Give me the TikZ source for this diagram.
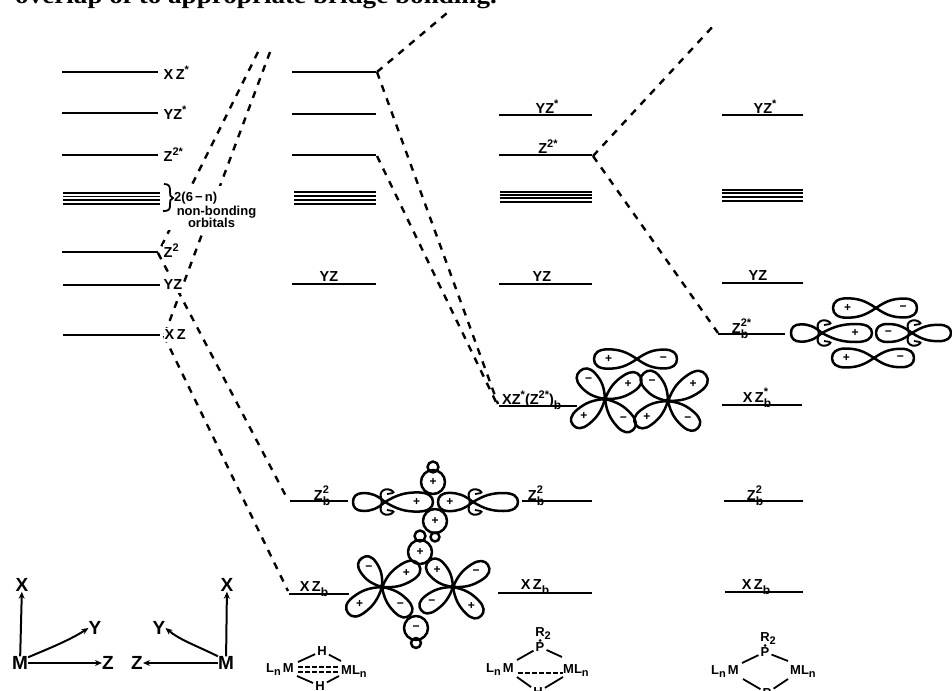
\documentclass[tikz,border=0pt]{standalone}
\usepackage{fontspec}
\setmainfont{Liberation Sans}
\newfontfamily\headfont{Liberation Serif}
\newcounter{orb}
\usetikzlibrary{arrows.meta}
\tikzset{
  lev/.style={line width=2pt,line cap=butt},
  levthin/.style={line width=1.4pt},
  nb/.style={line width=1.5pt},
  mo/.style={line width=2.4pt,dash pattern=on 7pt off 7pt},
  lab/.style={inner sep=0pt,font=\fontsize{14.5}{14.5}\selectfont\bfseries},
  sm/.style={inner sep=0pt,font=\fontsize{13}{13}\selectfont\bfseries},
  axl/.style={inner sep=0pt,font=\fontsize{19}{19}\selectfont\bfseries},
  ax/.style={line width=2pt,-{Stealth[length=7pt,width=6pt]}},
  sgn/.style={inner sep=0pt,font=\fontsize{12}{12}\selectfont\bfseries},
  orbl/.style={line width=2.5pt,line join=round},
  bond/.style={line width=1.8pt},
  note/.style={fill=white,inner sep=1pt,font=\fontsize{13}{13}\selectfont\bfseries},
}
% lobe from centre (#1,#2) to tip (#3,#4), width ratio #5, sign #6
\newcommand\lobe[6]{%
  \begin{scope}[shift={(#1,#2)},
    x={({(#3-(#1))*1pt},{((#2)-(#4))*1pt})},
    y={({((#2)-(#4))*1pt},{((#1)-(#3))*1pt})}]
    \draw[orbl] (0,0) .. controls (.25,{.38*#5}) and (.42,{.5*#5}) .. (.68,{.5*#5})
      .. controls (.9,{.5*#5}) and (1,{.3*#5}) .. (1,0)
      .. controls (1,{-.3*#5}) and (.9,{-.5*#5}) .. (.68,{-.5*#5})
      .. controls (.42,{-.5*#5}) and (.25,{-.38*#5}) .. (0,0);
    \if\relax\detokenize{#6}\relax\else
      \stepcounter{orb}\node[sgn] (sg\theorb) at (.66,0) {#6};
    \fi
  \end{scope}}
% collar of a z2 orbital
\newcommand\collar[2]{%
  \draw[orbl,line width=2pt] ({#1+9},{#2-9}) .. controls ({#1+6},{#2-15}) and ({#1-7},{#2-14}) .. ({#1-4},{#2-4})
     .. controls ({#1-3},{#2-1}) and ({#1-3},{#2+1}) .. ({#1-4},{#2+4})
     .. controls ({#1-7},{#2+14}) and ({#1+6},{#2+15}) .. ({#1+9},{#2+9});
  \draw[orbl,line width=1.8pt] ({#1+2},{#2-8}) -- ({#1+8},{#2-9});
  \draw[orbl,line width=1.8pt] ({#1+2},{#2+8}) -- ({#1+8},{#2+9});}
% ring with optional sign
\newcommand\ring[4]{%
  \stepcounter{orb}\draw[orbl] (#1,#2) circle (#3);
  \if\relax\detokenize{#4}\relax\else
    \node[sgn] (rg\theorb) at (#1,#2) {#4};
  \fi}
\newcommand\tiesub[2]{\rlap{\raisebox{7pt}{\fontsize{11}{11}\selectfont\bfseries #1}}\raisebox{-5pt}{\fontsize{12}{12}\selectfont\bfseries #2}}
\newcommand\tiesup[1]{\raisebox{6pt}{\fontsize{11}{11}\selectfont\bfseries #1}}
\newcommand\tsub{\raisebox{-5pt}{\fontsize{12}{12}\selectfont\bfseries b}}
\newcommand\lsub{\raisebox{-3pt}{\fontsize{11}{11}\selectfont n}}
\newcommand\rsub{\raisebox{-3pt}{\fontsize{11}{11}\selectfont 2}}
\begin{document}
\begin{tikzpicture}[x=1pt,y=-1pt]
\clip (0,0) rectangle (952,690);
\fill[white] (0,0) rectangle (952,690);
% running text, cut by the page edge
\node[anchor=base west,inner sep=0pt,font=\headfont\fontsize{24}{24}\selectfont\bfseries,xscale=1.13] (head) at (15,4) {overlap of to appropriate bridge bonding.};

% named ends of the levels
\coordinate (a2) at (158,253);
\coordinate (a3) at (164,336);
\coordinate (f1) at (258,52);
\coordinate (f2) at (270,52);
\coordinate (b1) at (377,72);
\coordinate (b3) at (377,156);
\coordinate (t1) at (447,13);
\coordinate (bz) at (288,500);
\coordinate (bx) at (288,591);
\coordinate (c3) at (593,156);
\coordinate (cb) at (498,404);
\coordinate (cb2) at (496,402);
\coordinate (t2) at (716,23);
\coordinate (dz) at (718,333);

% correlation lines
\draw[mo] (f1) -- (a2);
\draw[mo] (f2) -- (a3);
\draw[mo] (a2) -- (bz);
\draw[mo] (a3) -- (bx);
\draw[mo] (b1) -- (t1);
\draw[mo] (b1) -- (cb);
\draw[mo] (b3) -- (cb2);
\draw[mo] (c3) -- (t2);
\draw[mo] (c3) -- (dz);

% column 1
\draw[lev] (62,72) -- (158,72);
\draw[lev] (62,113) -- (158,113);
\draw[levthin] (62,155) -- (158,155);
\foreach \y in {193,196.5,200,204} \draw[nb] (63,\y) -- (160,\y);
\draw[lev] (62,252) -- (158,252);
\draw[lev] (63,285) -- (160,285);
\draw[levthin] (63,335) -- (160,335);

\node[lab,anchor=west,fill=white,inner sep=.5pt] (l1a) at (163,73) {X\,Z\tiesup{*}};
\node[lab,anchor=west,fill=white,inner sep=.5pt] (l1b) at (163,113) {YZ\tiesup{*}};
\node[lab,anchor=west,fill=white,inner sep=.5pt] (l1c) at (163,155) {Z\tiesup{2*}};
\node[lab,anchor=west,fill=white,inner sep=.5pt] (l1d) at (163,251) {Z\tiesup{2}};
\node[lab,anchor=west,fill=white,inner xsep=.5pt,inner ysep=3pt] (l1e) at (163,285) {YZ};
\node[lab,anchor=west,fill=white,inner xsep=.5pt,inner ysep=2pt] (l1f) at (164,335) {X\,Z};
\fill[white] (163,186) rectangle (222,230);
\draw[line width=1.8pt] (164,184) .. controls (170,184) and (170,187) .. (170,192)
   .. controls (170,195) and (170,197) .. (173,198)
   .. controls (170,199) and (170,201) .. (170,204)
   .. controls (170,209) and (170,211) .. (163,211);
\node[note,anchor=west,inner sep=0pt] (n1) at (174,198) {2(6\,−\,n)};
\node[note] (n2) at (216.5,212) {non-bonding};
\node[note] (n3) at (211.5,223) {orbitals};

% column 2
\draw[lev] (292,72) -- (376,72);
\draw[lev] (292,114) -- (376,114);
\draw[levthin] (292,155) -- (376,155);
\foreach \y in {192,196,200,204} \draw[nb] (294,\y) -- (376,\y);
\draw[lev] (292,284) -- (376,284);
\node[lab] (l2a) at (329,277) {YZ};
\draw[lev] (290,501) -- (348,501);
\draw[lev] (289,594) -- (349,594);
\node[lab] (l2b) at (322,496) {Z\tiesub{2}{b}\hspace{6pt}};
\node[lab] (l2c) at (314,589) {X\,Z\tsub};

% column 3
\draw[lev] (499,115) -- (592,115);
\draw[lev] (499,155) -- (592,155);
\foreach \y in {192,195,198,202} \draw[nb] (500,\y) -- (592,\y);
\draw[lev] (499,284) -- (592,284);
\draw[lev] (499,406) -- (577,406);
\draw[lev] (522,501) -- (592,501);
\draw[lev] (498,593) -- (592,593);
\node[lab] (l3a) at (547,107) {YZ\tiesup{*}};
\node[lab] (l3b) at (548,147) {Z\tiesup{2*}};
\node[lab] (l3c) at (542,277) {YZ};
\node[lab,anchor=west] (l3d) at (502,400) {XZ\tiesup{*}(Z\tiesup{2*})\tsub};
\node[lab] (l3e) at (536,496) {Z\tiesub{2}{b}\hspace{6pt}};
\node[lab] (l3f) at (535,587) {X\,Z\tsub};

% column 4
\draw[lev] (722,115) -- (803,115);
\foreach \y in {190,193,197,201} \draw[nb] (722,\y) -- (803,\y);
\draw[levthin] (722,283) -- (803,283);
\draw[lev] (718,334) -- (785,334);
\draw[lev] (722,405) -- (802,405);
\draw[lev] (724,501) -- (803,501);
\draw[lev] (725,592) -- (803,592);
\node[lab] (l4a) at (765,107) {YZ\tiesup{*}};
\node[lab] (l4b) at (758,276) {YZ};
\node[lab] (l4c) at (740,329) {Z\tiesub{2*}{b}\hspace{8pt}};
\node[lab] (l4d) at (757,398) {X\,Z\tiesub{*}{b}\hspace{6pt}};
\node[lab] (l4e) at (755,496) {Z\tiesub{2}{b}\hspace{6pt}};
\node[lab] (l4f) at (756,587) {X\,Z\tsub};

% orbitals beside Zb2 (column 2)
\lobe{385}{502}{353}{502}{.56}{}
\lobe{385}{502}{433}{502}{.40}{+}
\collar{385}{502}
\lobe{473}{502}{438}{502}{.52}{+}
\lobe{473}{502}{518}{502}{.40}{}
\collar{473}{502}
\ring{433}{467}{5.5}{}
\ring{433}{482}{12}{+}
\ring{435}{521}{12}{+}
\ring{435}{537}{4.5}{}
\ring{420}{536}{5.5}{}
\ring{420}{552}{12}{+}
\ring{416}{628}{12}{−}
\ring{416}{643}{5}{}
% XZb
\lobe{382}{587}{362}{558}{.52}{−}
\lobe{382}{587}{419}{565}{.45}{+}
\lobe{382}{587}{348}{613}{.45}{+}
\lobe{382}{587}{410}{615}{.45}{−}
\fill (382,587) circle (3);
\lobe{453}{587}{429}{561}{.52}{+}
\lobe{453}{587}{488}{565}{.45}{−}
\lobe{453}{587}{421}{610}{.45}{−}
\lobe{453}{587}{481}{616}{.45}{+}
\fill (453,587) circle (3);

% orbitals of column 3
\lobe{637}{359}{594}{359}{.45}{+}
\lobe{637}{359}{677}{359}{.47}{−}
\lobe{605}{399}{580}{371}{.52}{−}
\lobe{605}{399}{640}{376}{.45}{+}
\lobe{605}{399}{573}{425}{.45}{+}
\lobe{605}{399}{633}{430}{.45}{−}
\fill (605,399) circle (3);
\lobe{668}{401}{644}{373}{.52}{−}
\lobe{668}{401}{706}{375}{.45}{+}
\lobe{668}{401}{636}{425}{.45}{+}
\lobe{668}{401}{698}{428}{.45}{−}
\fill (668,401) circle (3);

% orbitals of column 4
\lobe{876}{308}{833}{308}{.45}{+}
\lobe{876}{308}{917}{308}{.46}{−}
\lobe{874}{358}{832}{358}{.45}{+}
\lobe{874}{358}{914}{358}{.46}{−}
\lobe{822}{333}{791}{333}{.56}{}
\lobe{822}{333}{872}{333}{.36}{+}
\collar{822}{333}
\lobe{912}{333}{876}{333}{.5}{−}
\lobe{912}{333}{951}{333}{.42}{}
\collar{912}{333}

% axes, left
\node[axl] (mL) at (20,663) {M};
\node[axl] (xL) at (22,585) {X};
\node[axl] (yL) at (95,628) {Y};
\node[axl] (zL) at (108,663) {Z};
\draw[ax] (mL) -- (xL);
\draw[ax] (mL.north east) ++(0,1) .. controls (50,648) and (70,640) .. (yL.west);
\draw[ax] (mL) -- (zL);
% axes, right
\node[axl] (mR) at (226,663) {M};
\node[axl] (xR) at (227,585) {X};
\node[axl] (yR) at (159,628) {Y};
\node[axl] (zR) at (137,663) {Z};
\draw[ax] (mR) -- (xR);
\draw[ax] (mR.north west) .. controls (195,645) and (180,640) .. (yR.east);
\draw[ax] (mR) -- (zR);

% hydride-bridged dimer
\node[sm,anchor=east] (lmA) at (294,670) {L\lsub\,M};
\node[sm,anchor=west] (mlA) at (341,672) {ML\lsub};
\node[sm,inner sep=2pt] (h1) at (322,651) {H};
\node[sm,inner sep=2pt] (h2) at (320,686) {H};
\draw[bond] (298,662) -- (h1);
\draw[bond] (h1) -- (341,661);
\draw[bond,dash pattern=on 5pt off 2pt] (298,667) -- (339,667);
\draw[bond,dash pattern=on 5pt off 2pt] (298,672) -- (339,672);
\draw[bond] (297,676) -- (h2);
\draw[bond] (h2) -- (339,676);

% phosphido/hydride-bridged dimer
\node[sm] (r3) at (543,634) {R\rsub};
\node[sm,inner sep=2pt] (p3) at (540,647) {P};
\node[sm,anchor=east] (lm3) at (514,670) {L\lsub\,M};
\node[sm,anchor=west] (ml3) at (563,671) {ML\lsub};
\node[sm,inner sep=2pt] (h3) at (538,692) {H};
\draw[bond] (517,660) -- (p3);
\draw[bond] (p3) -- (562,657);
\draw[bond,dash pattern=on 5pt off 2pt] (518,673) -- (563,673);
\draw[bond] (517,677) -- (h3);
\draw[bond] (h3) -- (563,677);
\fill (540,640.5) circle (1.5);

% diphosphido-bridged dimer
\node[sm] (r4) at (768,639) {R\rsub};
\node[sm,inner sep=2pt] (p4) at (765,652) {P};
\node[sm,anchor=east] (lm4) at (739,672) {L\lsub\,M};
\node[sm,anchor=west] (ml4) at (790,672) {ML\lsub};
\node[sm,inner sep=2pt] (p5) at (767,693) {P};
\draw[bond] (742,663) -- (p4);
\draw[bond] (p4) -- (788,661);
\draw[bond] (743,679) -- (p5);
\draw[bond] (p5) -- (788,679);
\fill (765,645.5) circle (1.5);
\end{tikzpicture}
\end{document}
